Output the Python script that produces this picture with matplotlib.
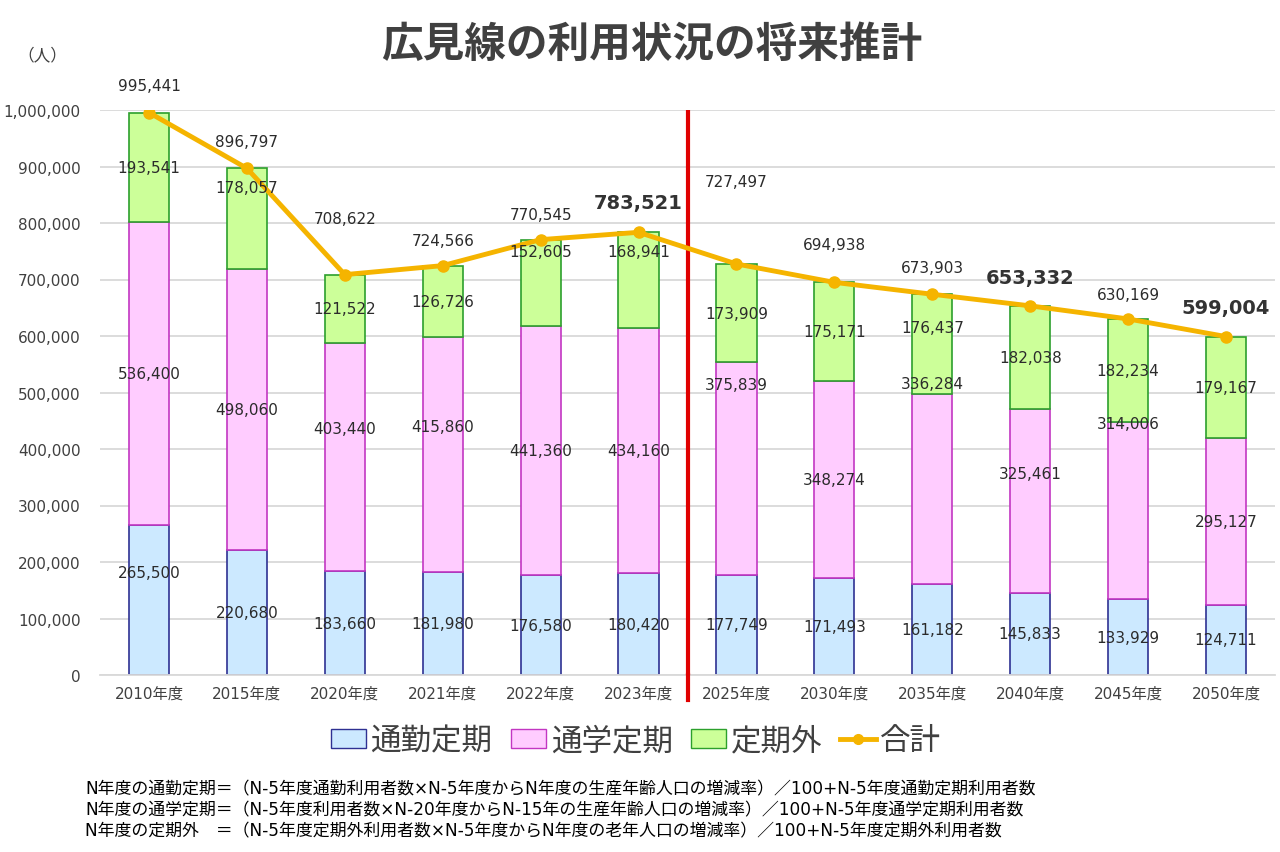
import matplotlib
matplotlib.use("Agg")
import matplotlib.pyplot as plt
import numpy as np
from matplotlib.patches import Patch
from matplotlib.lines import Line2D

plt.rcParams['font.family'] = ['DejaVu Sans', 'Noto Sans CJK JP']

years = ["2010年度", "2015年度", "2020年度", "2021年度", "2022年度", "2023年度",
         "2025年度", "2030年度", "2035年度", "2040年度", "2045年度", "2050年度"]
tsukin = [265500, 220680, 183660, 181980, 176580, 180420,
          177749, 171493, 161182, 145833, 133929, 124711]
tsugaku = [536400, 498060, 403440, 415860, 441360, 434160,
           375839, 348274, 336284, 325461, 314006, 295127]
teikigai = [193541, 178057, 121522, 126726, 152605, 168941,
            173909, 175171, 176437, 182038, 182234, 179167]
gokei = [995441, 896797, 708622, 724566, 770545, 783521,
         727497, 694938, 673903, 653332, 630169, 599004]

# label heights that were moved by hand in the original (data units)
tsukin_lab = {0: 182300}
tsugaku_lab = {2: 435400, 3: 440700, 6: 515000, 8: 516800, 9: 357500, 10: 446000}
teikigai_lab = {1: 863700, 4: 748700, 5: 748700, 8: 615900}
gokei_lab = [1044200, 943400, 807100, 769900, 815900, 835400,
             874300, 762800, 722100, 704400, 674300, 649600]
big = [5, 9, 11]

fig = plt.figure(figsize=(12.8, 8.53), dpi=100)
ax = fig.add_axes([100/1280, 1-676/853, 1175/1280, 565/853])

x = np.arange(len(years))
w = 0.41
b1 = np.array(tsukin)
b2 = b1 + np.array(tsugaku)

ax.bar(x, tsukin, w, color="#cce9ff", edgecolor="#2e3192", linewidth=1.2, zorder=2)
ax.bar(x, tsugaku, w, bottom=b1, color="#ffccff", edgecolor="#c236c2", linewidth=1.2, zorder=2)
ax.bar(x, teikigai, w, bottom=b2, color="#ccff99", edgecolor="#2ca02c", linewidth=1.2, zorder=2)
ax.plot(x, gokei, color="#f5b400", linewidth=3.5, marker="o", markersize=8, zorder=4)

txt = "#2b2b2b"
for i in x:
    y1 = tsukin_lab.get(i, tsukin[i] / 2)
    ax.text(i, y1, f"{tsukin[i]:,}", ha="center", va="center", fontsize=11, color=txt, zorder=5)
    y2 = tsugaku_lab.get(i, b1[i] + tsugaku[i] / 2)
    ax.text(i, y2, f"{tsugaku[i]:,}", ha="center", va="center", fontsize=11, color=txt, zorder=5)
    y3 = teikigai_lab.get(i, b2[i] + teikigai[i] / 2)
    ax.text(i, y3, f"{teikigai[i]:,}", ha="center", va="center", fontsize=11, color=txt, zorder=5)
    if i in big:
        ax.text(i, gokei_lab[i], f"{gokei[i]:,}", ha="center", va="center", fontsize=14,
                fontweight="bold", color="#333333", zorder=5, clip_on=False)
    else:
        ax.text(i, gokei_lab[i], f"{gokei[i]:,}", ha="center", va="center", fontsize=11,
                color=txt, zorder=5, clip_on=False)

ax.axvline(5.5, ymin=0, ymax=1.0, color="#e00000", linewidth=3, zorder=3)
ax.plot([5.5, 5.5], [-45000, 0], color="#e00000", linewidth=3, clip_on=False, zorder=3)

ax.set_xlim(-0.5, len(years) - 0.5)
ax.set_ylim(0, 1000000)
ax.set_yticks(np.arange(0, 1000001, 100000))
ax.yaxis.set_major_formatter(matplotlib.ticker.FuncFormatter(lambda v, p: f"{int(v):,}"))
ax.set_xticks(x)
ax.set_xticklabels(years)
ax.tick_params(axis="both", length=0, labelsize=11, colors="#404040")
ax.tick_params(axis="x", pad=8)
ax.tick_params(axis="y", pad=14)
ax.grid(axis="y", color="#d9d9d9", linewidth=1.3, zorder=0)
ax.set_axisbelow(True)
for s in ["top", "right", "left"]:
    ax.spines[s].set_visible(False)
ax.spines["bottom"].set_color("#d9d9d9")
ax.spines["bottom"].set_linewidth(1.3)

fig.text(652/1280, 1-45/853, "広見線の利用状況の将来推計", ha="center", va="center",
         fontsize=30, fontweight="bold", color="#404040")
fig.text(42/1280, 1-55/853, "（人）", ha="center", va="center", fontsize=12, color="#404040")

handles = [Patch(facecolor="#cce9ff", edgecolor="#2e3192"),
           Patch(facecolor="#ffccff", edgecolor="#c236c2"),
           Patch(facecolor="#ccff99", edgecolor="#2ca02c"),
           Line2D([0], [0], color="#f5b400", linewidth=3.5, marker="o", markersize=7)]
fig.legend(handles, ["通勤定期", "通学定期", "定期外", "合計"], loc="center",
           bbox_to_anchor=(636/1280, 1-742/853), ncol=4, frameon=False, fontsize=22,
           handlelength=1.15, handleheight=0.55, handletextpad=0.15, columnspacing=0.6,
           labelcolor="#404040")

notes = ["N年度の通勤定期＝（N-5年度通勤利用者数×N-5年度からN年度の生産年齢人口の増減率）／100+N-5年度通勤定期利用者数",
         "N年度の通学定期＝（N-5年度利用者数×N-20年度からN-15年の生産年齢人口の増減率）／100+N-5年度通学定期利用者数",
         "N年度の定期外　＝（N-5年度定期外利用者数×N-5年度からN年度の老年人口の増減率）／100+N-5年度定期外利用者数"]
for k, n in enumerate(notes):
    fig.text(85/1280, 1-(789 + 21 * k)/853, n, ha="left", va="center", fontsize=12.2, color="black")

fig.savefig("out.png", dpi=100)
